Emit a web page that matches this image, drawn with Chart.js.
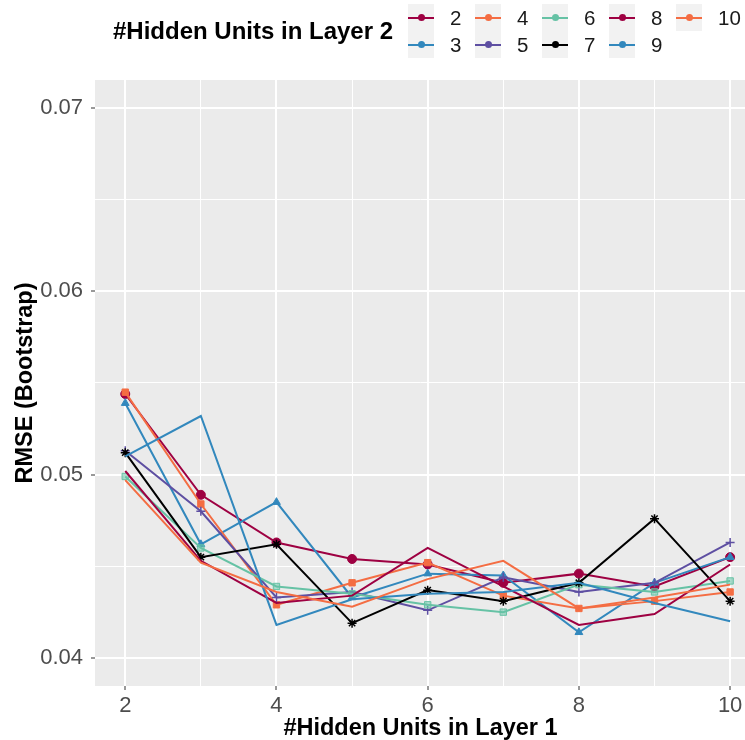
<!DOCTYPE html>
<html>
<head>
<meta charset="utf-8">
<script src="https://cdn.jsdelivr.net/npm/chart.js@4.4.1/dist/chart.umd.min.js"></script>
<style>
  body { margin: 0; background: #fff; width: 745px; height: 740px; overflow: hidden; position: relative;
         font-family: "Liberation Sans", Arial, sans-serif; }
  #chart { position: absolute; left: 0; top: 0; }
  #legTitle { position: absolute; left: 113px; top: 17px; font-weight: bold; font-size: 24px; color: #000; }
  #legend { position: absolute; left: 408px; top: 4px; display: grid; grid-auto-flow: column;
            grid-template-rows: 27px 27px; grid-template-columns: repeat(5, 67px); }
  .item { display: flex; align-items: center; height: 27px; }
  .key { width: 26px; height: 27px; background: #F2F2F2; position: relative; flex: none; }
  .key .ln { position: absolute; left: 0; right: 0; top: 12.5px; height: 2px; }
  .key .dot { position: absolute; left: 9.5px; top: 10px; width: 7px; height: 7px; border-radius: 50%; }
  .lab { font-size: 20.5px; color: #1a1a1a; margin-left: 16px; }
</style>
</head>
<body>
<canvas id="chart" width="752" height="740"></canvas>
<div id="legTitle">#Hidden Units in Layer 2</div>
<div id="legend"></div>
<script>
// x axis: hidden units in layer 1
var layer1Units = [2, 3, 4, 5, 6, 7, 8, 9, 10];
// one series per number of hidden units in layer 2
var layer2Units = ['2', '3', '4', '5', '6', '7', '8', '9', '10'];

var rmse2  = [0.0544, 0.0489, 0.0463, 0.0454, 0.0451, 0.0441, 0.0446, 0.0439, 0.0455];
var rmse3  = [0.0539, 0.0462, 0.0485, 0.0433, 0.0446, 0.0445, 0.0414, 0.0441, 0.0455];
var rmse4  = [0.0545, 0.0484, 0.0429, 0.0441, 0.0452, 0.0434, 0.0427, 0.0431, 0.0436];
var rmse5  = [0.0513, 0.0480, 0.0433, 0.0436, 0.0426, 0.0444, 0.0436, 0.0441, 0.0463];
var rmse6  = [0.0499, 0.0460, 0.0439, 0.0435, 0.0429, 0.0425, 0.0440, 0.0436, 0.0442];
var rmse7  = [0.0512, 0.0455, 0.0462, 0.0419, 0.0437, 0.0431, 0.0441, 0.0476, 0.0431];
var rmse8  = [0.0502, 0.0453, 0.0430, 0.0434, 0.0460, 0.0439, 0.0418, 0.0424, 0.0451];
var rmse9  = [0.0510, 0.0532, 0.0418, 0.0432, 0.0435, 0.0436, 0.0441, 0.0430, 0.0420];
var rmse10 = [0.0497, 0.0452, 0.0436, 0.0428, 0.0443, 0.0453, 0.0427, 0.0433, 0.0440];

var yTicks = [0.04, 0.045, 0.05, 0.055, 0.06, 0.065, 0.07];

var allSeries = [rmse2, rmse3, rmse4, rmse5, rmse6, rmse7, rmse8, rmse9, rmse10];
var colores = ['#9E0142', '#3288BD', '#F46D43', '#5E4FA2', '#66C2A5', '#000000', '#9E0142', '#3288BD', '#F46D43'];
var formas = ['circle', 'triangle', 'rect', 'cross', 'rect', 'star', false, false, false];

Chart.defaults.font.family = '"Liberation Sans", Arial, sans-serif';

function esMayor(v) {
    return Math.abs(Math.round(v * 100) - v * 100) < 1e-6;
}

var datasets = allSeries.map(function(serie, i) {
    return {
        label: layer2Units[i],
        data: serie.map(function(v, j) { return {x: layer1Units[j], y: v}; }),
        borderColor: colores[i],
        backgroundColor: i === 4 ? 'rgba(102,194,165,0.55)' : colores[i],
        borderWidth: 2,
        pointStyle: formas[i] || 'circle',
        pointRadius: formas[i] ? 4.5 : 0,
        pointBorderWidth: (formas[i] === 'cross' || formas[i] === 'star') ? 1.5 : 1,
        tension: 0,
        order: allSeries.length - i
    };
});

// panel background like ggplot
var fondoPanel = {
    id: 'fondoPanel',
    beforeDraw: function(chart) {
        var a = chart.chartArea;
        chart.ctx.save();
        chart.ctx.fillStyle = '#EBEBEB';
        chart.ctx.fillRect(a.left, a.top, a.right - a.left, a.bottom - a.top);
        chart.ctx.restore();
    }
};

new Chart(document.getElementById('chart'), {
    type: 'line',
    data: { datasets: datasets },
    options: {
        responsive: false,
        animation: false,
        devicePixelRatio: 1,
        layout: { padding: { top: 80, left: 0, right: 0, bottom: 0 } },
        plugins: { legend: { display: false }, tooltip: { enabled: false } },
        scales: {
            x: {
                type: 'linear',
                min: 1.6,
                max: 10.21,
                afterBuildTicks: function(scale) {
                    scale.ticks = layer1Units.map(function(v) { return {value: v}; });
                },
                afterFit: function(scale) { scale.height = 54; },
                border: { display: false },
                grid: {
                    color: '#FFFFFF',
                    lineWidth: function(ctx) { return ctx.tick && ctx.tick.value % 2 === 0 ? 2 : 1; },
                    tickColor: function(ctx) { return ctx.tick && ctx.tick.value % 2 === 0 ? '#333333' : 'rgba(0,0,0,0)'; },
                    tickLength: 4,
                    tickWidth: 1
                },
                ticks: {
                    autoSkip: false,
                    maxRotation: 0,
                    padding: 3,
                    color: '#4D4D4D',
                    font: { size: 22 },
                    callback: function(v) { return v % 2 === 0 ? String(v) : ''; }
                },
                title: {
                    display: true,
                    text: '#Hidden Units in Layer 1',
                    color: '#000',
                    font: { size: 23.5, weight: 'bold', lineHeight: 1 },
                    padding: 0
                }
            },
            y: {
                min: 0.03847,
                max: 0.07153,
                afterBuildTicks: function(scale) {
                    scale.ticks = yTicks.map(function(v) { return {value: v}; });
                },
                afterFit: function(scale) { scale.width = 95; },
                border: { display: false },
                grid: {
                    color: '#FFFFFF',
                    lineWidth: function(ctx) { return ctx.tick && esMayor(ctx.tick.value) ? 2 : 1; },
                    tickColor: function(ctx) { return ctx.tick && esMayor(ctx.tick.value) ? '#333333' : 'rgba(0,0,0,0)'; },
                    tickLength: 4,
                    tickWidth: 1
                },
                ticks: {
                    padding: 8,
                    color: '#4D4D4D',
                    font: { size: 22 },
                    callback: function(v) { return esMayor(v) ? v.toFixed(2) : ''; }
                },
                title: {
                    display: true,
                    text: 'RMSE (Bootstrap)',
                    color: '#000',
                    font: { size: 23.5, weight: 'bold', lineHeight: 1.2 },
                    padding: { top: 11, bottom: 0 }
                }
            }
        }
    },
    plugins: [fondoPanel]
});

// legend in columns, like ggplot
var leyenda = document.getElementById('legend');
layer2Units.forEach(function(nombre, i) {
    var item = document.createElement('div');
    item.className = 'item';
    item.innerHTML = '<div class="key"><div class="ln" style="background:' + colores[i] + '"></div>' +
        '<div class="dot" style="background:' + colores[i] + '"></div></div>' +
        '<span class="lab">' + nombre + '</span>';
    leyenda.appendChild(item);
});
</script>
</body>
</html>
